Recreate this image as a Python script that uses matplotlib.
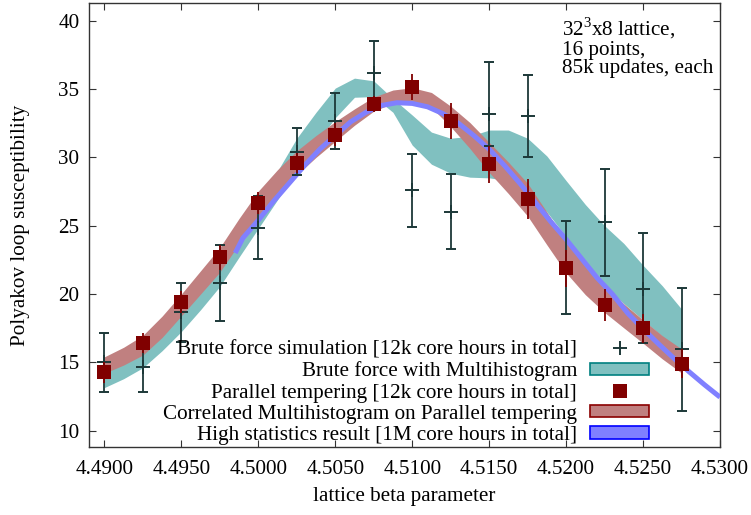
import matplotlib
matplotlib.use("Agg")
import matplotlib.pyplot as plt
from matplotlib.lines import Line2D
from matplotlib.patches import Patch

plt.rcParams['font.family'] = ['Liberation Serif', 'DejaVu Serif']
plt.rcParams['mathtext.fontset'] = 'custom'
plt.rcParams['mathtext.rm'] = 'Liberation Serif'

FS = 15.2

# ---- data points (16 lattice beta values) ----
beta = [4.4900, 4.4925, 4.4950, 4.4975, 4.5000, 4.5025, 4.5050, 4.5075,
        4.5100, 4.5125, 4.5150, 4.5175, 4.5200, 4.5225, 4.5250, 4.5275]

brute_y = [15.0, 14.64, 18.67, 20.83, 24.86, 30.42, 32.67, 36.2,
           27.6, 26.0, 33.2, 33.04, 21.9, 25.28, 20.4, 15.96]
brute_lo = [12.85, 12.84, 16.5, 18.05, 22.55, 28.72, 30.62, 33.9,
            24.93, 23.3, 30.8, 30.0, 18.5, 21.35, 16.4, 11.46]
brute_hi = [17.13, 16.45, 20.83, 23.6, 27.15, 32.14, 34.7, 38.5,
            30.23, 28.8, 37.0, 36.04, 25.37, 29.16, 24.45, 20.42]

pt_y = [14.27, 16.4, 19.44, 22.69, 26.64, 29.57, 31.65, 33.92,
        35.14, 32.67, 29.5, 26.94, 21.89, 19.2, 17.5, 14.88]
pt_err = [0.77, 0.73, 0.8, 0.93, 0.8, 0.75, 0.85, 0.6,
          0.93, 1.3, 1.35, 1.45, 1.35, 1.2, 1.07, 1.06]

# ---- bands (read every 0.00125) ----
band_x = [4.49000, 4.49125, 4.49250, 4.49375, 4.49500, 4.49625, 4.49750, 4.49875,
          4.50000, 4.50125, 4.50250, 4.50375, 4.50500, 4.50625, 4.50750, 4.50875,
          4.51000, 4.51125, 4.51250, 4.51375, 4.51500, 4.51625, 4.51750, 4.51875,
          4.52000, 4.52125, 4.52250, 4.52375, 4.52500, 4.52625, 4.52750]

cyan_lo = [13.15, 13.8, 14.6, 15.85, 17.25, 18.85, 20.55, 22.7,
           24.8, 26.9, 29.1, 31.0, 32.9, 34.4, 34.45, 33.3,
           30.9, 29.5, 28.84, 28.55, 28.5, 28.3, 27.5, 26.0,
           24.2, 22.4, 20.6, 19.3, 18.1, 16.9, 15.7]
cyan_hi = [14.9, 15.6, 16.4, 17.7, 19.1, 20.7, 22.4, 24.6,
           26.8, 29.0, 31.4, 33.3, 35.07, 35.8, 35.6, 34.3,
           33.1, 31.85, 31.4, 31.55, 32.0, 32.0, 31.4, 30.1,
           28.3, 26.55, 25.0, 23.7, 22.1, 20.6, 18.9]

red_lo = [14.20, 14.80, 15.53, 16.82, 18.40, 20.00, 21.60, 23.67,
          25.67, 27.30, 28.72, 30.00, 31.18, 32.35, 33.38, 33.97,
          34.10, 33.65, 32.25, 30.65, 28.90, 27.35, 25.70, 23.60,
          21.55, 19.95, 18.65, 17.52, 16.40, 15.25, 14.22]
red_hi = [15.40, 16.10, 16.97, 18.38, 20.00, 21.70, 23.40, 25.53,
          27.53, 29.10, 30.48, 31.60, 32.62, 33.55, 34.42, 34.93,
          35.10, 34.75, 33.75, 32.55, 31.10, 29.65, 28.10, 26.00,
          23.85, 22.05, 20.55, 19.28, 18.10, 16.95, 15.98]

blue_x = [4.4985, 4.4990, 4.5000, 4.5010, 4.5020, 4.5030, 4.5040, 4.5050,
          4.5060, 4.5070, 4.5080, 4.5090, 4.5100, 4.5110, 4.5120, 4.5130,
          4.5140, 4.5150, 4.5160, 4.5170, 4.5180, 4.5190, 4.5200, 4.5210,
          4.5220, 4.5230, 4.5240, 4.5250, 4.5260, 4.5270, 4.5280, 4.5290, 4.5300]
blue_y = [23.0, 24.1, 25.4, 26.8, 28.1, 29.4, 30.6, 31.6,
          32.6, 33.3, 33.8, 34.0, 33.95, 33.7, 33.2, 32.5,
          31.6, 30.6, 29.4, 28.1, 26.7, 25.3, 24.0, 22.6,
          21.2, 20.0, 18.6, 17.45, 16.35, 15.3, 14.3, 13.35, 12.45]

xticks = [4.4900, 4.4950, 4.5000, 4.5050, 4.5100, 4.5150, 4.5200, 4.5250, 4.5300]
yticks = [10, 15, 20, 25, 30, 35, 40]

labels = ["Brute force simulation [12k core hours in total]",
          "Brute force with Multihistogram",
          "Parallel tempering [12k core hours in total]",
          "Correlated Multihistogram on Parallel tempering",
          "High statistics result [1M core hours in total]"]

C_BRUTE = '#1c3838'
C_CYAN = '#80c0c0'
C_CYAN_E = '#008080'
C_PT = '#800000'
C_RED = '#c08080'
C_RED_E = '#8b0000'
C_BLUE = '#8080ff'
C_BLUE_E = '#0000ff'

fig = plt.figure(figsize=(7.51, 5.15), dpi=100)
ax = fig.add_axes([89 / 751, (515 - 447) / 515, (720 - 89) / 751, (447 - 3) / 515])

ax.fill_between(band_x, cyan_lo, cyan_hi, color=C_CYAN, lw=0, zorder=1)
ax.fill_between(band_x, red_lo, red_hi, color=C_RED, lw=0, zorder=2)
ax.plot(blue_x, blue_y, color=C_BLUE, lw=3.6, zorder=3, solid_capstyle='butt')

b_err = [[y - l for y, l in zip(brute_y, brute_lo)], [h - y for y, h in zip(brute_y, brute_hi)]]
ax.errorbar(beta, brute_y, yerr=b_err, fmt='+', color=C_BRUTE, ms=10.5, mew=1.4,
            elinewidth=1.3, capsize=3.5, capthick=1.3, zorder=4)
ax.errorbar(beta, pt_y, yerr=pt_err, fmt='s', color=C_PT, ms=9.5, mew=0,
            elinewidth=1.3, capsize=3.5, capthick=1.3, zorder=5)

ax.set_xlim(4.489, 4.530)
ax.set_ylim(8.8, 41.3)
ax.set_xticks(xticks)
ax.set_xticklabels([f"{v:.4f}" for v in xticks])
ax.set_yticks(yticks)
ax.tick_params(direction='in', length=5, width=0.8, top=True, right=True,
               labelsize=FS, pad=7, colors='#333333', labelcolor='black')
ax.tick_params(axis='x', pad=9)
for s in ax.spines.values():
    s.set_color('#333333')
    s.set_linewidth(1.0)

ax.set_xlabel("lattice beta parameter", fontsize=FS, labelpad=6)
ax.set_ylabel("Polyakov loop susceptibility", fontsize=FS, labelpad=20)

ax.text(0.750, 0.972, "32$^3$x8 lattice,\n16 points,\n85k updates, each",
        transform=ax.transAxes, fontsize=FS, va='top', ha='left', linespacing=0.98)

handles = [Line2D([], [], ls='none', marker='+', color=C_BRUTE, ms=10.5, mew=1.4),
           Patch(facecolor=C_CYAN, edgecolor=C_CYAN_E, lw=1.2),
           Line2D([], [], ls='none', marker='s', color=C_PT, ms=9.5, mew=0),
           Patch(facecolor=C_RED, edgecolor=C_RED_E, lw=1.2),
           Patch(facecolor=C_BLUE, edgecolor=C_BLUE_E, lw=1.2)]
leg = ax.legend(handles, labels, loc='lower right', bbox_to_anchor=(0.888, 0.005),
                markerfirst=False, frameon=False, fontsize=FS, handlelength=2.8,
                handleheight=0.53, labelspacing=0.1, handletextpad=0.62, borderpad=0,
                borderaxespad=0)
leg.set_zorder(6)

fig.savefig("out.png", dpi=100)
